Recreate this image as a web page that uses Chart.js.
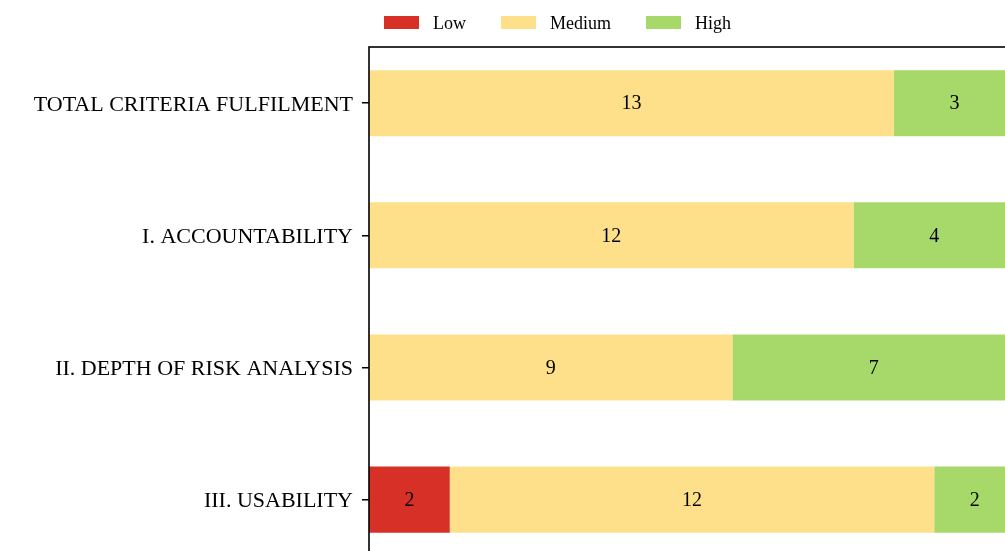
<!DOCTYPE html>
<html>
<head>
<meta charset="utf-8">
<script src="https://cdn.jsdelivr.net/npm/chart.js@4.4.1/dist/chart.umd.min.js"></script>
<style>
html, body { margin: 0; padding: 0; width: 1005px; height: 551px; overflow: hidden; background: #fff; }
#wrap { width: 1020px; height: 578px; }
</style>
</head>
<body>
<div id="wrap"><canvas id="chart" width="1020" height="578"></canvas></div>
<script>
const categories = ['TOTAL CRITERIA FULFILMENT', 'I. ACCOUNTABILITY', 'II. DEPTH OF RISK ANALYSIS', 'III. USABILITY'];
const seriesNames = ['Low', 'Medium', 'High'];
const lowValues = [0, 0, 0, 2];
const mediumValues = [13, 12, 9, 12];
const highValues = [3, 4, 7, 2];
const seriesColors = ['#d73027', '#fee08b', '#a6d96a'];

const FONT = '"Liberation Serif", "Times New Roman", serif';

const toPoints = arr => arr.map((v, i) => ({ x: v, y: i }));

// matplotlib-style frame around the axes
const framePlugin = {
    id: 'frame',
    afterDatasetsDraw(chart) {
        const { ctx, chartArea: a } = chart;
        ctx.save();
        ctx.strokeStyle = '#000';
        ctx.lineWidth = 1.6;
        ctx.strokeRect(a.left, a.top, a.right - a.left, a.bottom - a.top);
        ctx.restore();
    }
};

// value labels centred inside each segment
const barLabels = {
    id: 'barLabels',
    afterDatasetsDraw(chart) {
        const ctx = chart.ctx;
        ctx.save();
        ctx.font = '20px ' + FONT;
        ctx.fillStyle = '#000';
        ctx.textAlign = 'center';
        ctx.textBaseline = 'middle';
        chart.data.datasets.forEach((ds, di) => {
            chart.getDatasetMeta(di).data.forEach((bar, i) => {
                const v = ds.data[i].x;
                if (!v) return;
                ctx.fillText(String(v), (bar.x + bar.base) / 2, bar.y + 1);
            });
        });
        ctx.restore();
    }
};

// legend row above the axes
const topLegend = {
    id: 'topLegend',
    afterDraw(chart) {
        const ctx = chart.ctx;
        ctx.save();
        ctx.font = '18px ' + FONT;
        ctx.textBaseline = 'middle';
        let x = 384;
        chart.data.datasets.forEach(ds => {
            ctx.fillStyle = ds.backgroundColor;
            ctx.fillRect(x, 16, 35, 13);
            x += 35 + 14;
            ctx.fillStyle = '#000';
            ctx.fillText(ds.label, x, 24);
            x += ctx.measureText(ds.label).width + 35;
        });
        ctx.restore();
    }
};

new Chart(document.getElementById('chart'), {
    type: 'bar',
    data: {
        datasets: [
            { label: seriesNames[0], data: toPoints(lowValues), backgroundColor: seriesColors[0] },
            { label: seriesNames[1], data: toPoints(mediumValues), backgroundColor: seriesColors[1] },
            { label: seriesNames[2], data: toPoints(highValues), backgroundColor: seriesColors[2] }
        ]
    },
    options: {
        indexAxis: 'y',
        responsive: false,
        animation: false,
        devicePixelRatio: 1,
        layout: { padding: { top: 47, right: 5, bottom: 0, left: 0 } },
        datasets: { bar: { barPercentage: 1, categoryPercentage: 0.5, borderWidth: 0 } },
        plugins: {
            legend: { display: false },
            tooltip: { enabled: false }
        },
        scales: {
            x: {
                type: 'linear',
                stacked: true,
                min: 0,
                max: 16,
                display: false
            },
            y: {
                type: 'linear',
                stacked: true,
                reverse: true,
                offset: false,
                min: -0.425,
                max: 3.425,
                afterBuildTicks: s => { s.ticks = categories.map((c, i) => ({ value: i })); },
                afterFit: s => { s.width = 369; },
                border: { display: false },
                grid: { offset: false, drawOnChartArea: false, drawTicks: true, tickLength: 7, color: '#000', lineWidth: 1.5 },
                ticks: {
                    color: '#000',
                    padding: 9,
                    autoSkip: false,
                    labelOffset: 2,
                    font: { family: FONT, size: 22 },
                    callback: v => categories[v]
                }
            }
        }
    },
    plugins: [framePlugin, barLabels, topLegend]
});
</script>
</body>
</html>
